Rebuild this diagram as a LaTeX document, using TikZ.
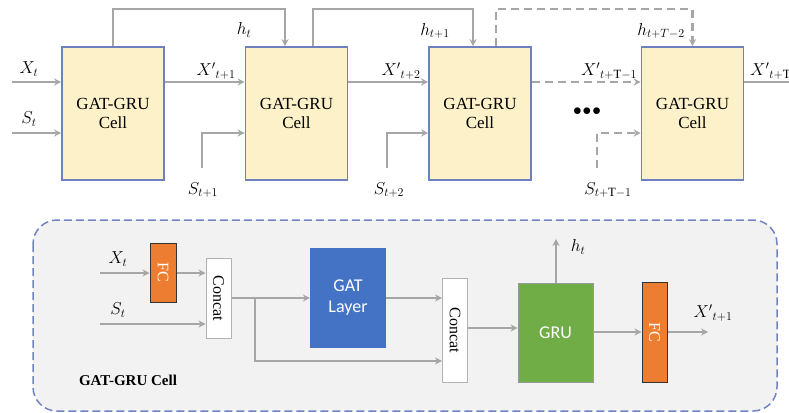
\documentclass[tikz,border=0pt]{standalone}
\usepackage{fontspec}
\setmainfont{Liberation Serif}
\newfontfamily\calib{Carlito}
\newfontfamily\tnr{Liberation Serif}
\usetikzlibrary{arrows.meta,calc}
\definecolor{arrgray}{HTML}{A6A6A6}
\definecolor{cellfill}{HTML}{FCF1C9}
\definecolor{cellborder}{HTML}{6F80BE}
\definecolor{fcorange}{HTML}{ED7D31}
\definecolor{gatblue}{HTML}{4472C4}
\definecolor{grugreen}{HTML}{70AD47}
\definecolor{panelfill}{HTML}{F2F2F2}
\definecolor{panelborder}{HTML}{7384C4}
\tikzset{
  arr/.style={draw=arrgray, line width=2.3pt, -{Stealth[length=7pt,width=7pt]}},
  dsh/.style={dash pattern=on 8pt off 5pt},
  cellbox/.style={draw=cellborder, line width=1.6pt, fill=cellfill, minimum width=102pt, minimum height=133pt, align=center, inner sep=0pt, font=\tnr\fontsize{17}{19}\selectfont},
  lbl/.style={inner sep=0pt, font=\fontsize{18}{20}\selectfont},
  fcbox/.style={draw=black!80, line width=1pt, fill=fcorange, minimum width=26pt, inner sep=0pt, text=white, font=\tnr\fontsize{16}{18}\selectfont},
  concatbox/.style={draw=black!30, line width=1pt, fill=white, minimum width=25pt, inner sep=0pt, font=\tnr\fontsize{16}{18}\selectfont},
  colbox/.style={inner sep=0pt, text=white, align=center, font=\calib\fontsize{18}{21}\selectfont},
}
\begin{document}
\begin{tikzpicture}[x=1pt,y=-1pt]
\useasboundingbox (0,0) rectangle (789,412);
% ---------- top chain ----------
\node[cellbox] (c1) at (113,113.5) {GAT-GRU\\Cell};
\node[cellbox] (c2) at (296.5,113.5) {GAT-GRU\\Cell};
\node[cellbox] (c3) at (480,113.5) {GAT-GRU\\Cell};
\node[cellbox] (c4) at (692.5,113.5) {GAT-GRU\\Cell};

\coordinate (xin) at (12,82);
\coordinate (sin) at (12,133);
\draw[arr] (xin) -- (c1.west |- xin);
\draw[arr] (sin) -- (c1.west |- sin);
\node[lbl] (lxt) at (29,69) {$X_t$};
\node[lbl] (lst) at (29,119) {$S_t$};

% h loops
\draw[arr] (c1.north) -- ++(0,-37) -| ([xshift=-11.5pt]c2.north);
\node[lbl] (lh1) at (244,30) {$h_t$};
\draw[arr] ([xshift=16.5pt]c2.north) -- ++(0,-37) -| ([xshift=-7pt]c3.north);
\node[lbl] (lh2) at (435,31) {$h_{t+1}$};
\draw[arr,dsh] ([xshift=16pt]c3.north) -- ++(0,-37) -| (c4.north);
\node[lbl] (lh3) at (661,31) {$h_{t+T-2}$};

% X' arrows
\draw[arr] (c1.east |- xin) -- (c2.west |- xin);
\node[lbl] (lx1) at (216,71) {${X'}_{t+1}$};
\draw[arr] (c2.east |- xin) -- (c3.west |- xin);
\node[lbl] (lx2) at (401,71) {${X'}_{t+2}$};
\draw[arr,dsh] (c3.east |- xin) -- (c4.west |- xin);
\node[lbl] (lx3) at (609,71) {${X'}_{t+\mathrm{T}-1}$};
\coordinate (xout) at (792,82);
\draw[draw=arrgray, line width=2.3pt] (c4.east |- xin) -- (xout);
\node[lbl, anchor=west] (lx4) at (750,71) {${X'}_{t+\mathrm{T}}$};

% S inputs
\coordinate (s2) at (202,168);
\draw[arr] (s2) |- (c2.west |- sin);
\node[lbl] (ls2) at (203,190) {$S_{t+1}$};
\coordinate (s3) at (387,168);
\draw[arr] (s3) |- (c3.west |- sin);
\node[lbl] (ls3) at (389,190) {$S_{t+2}$};
\coordinate (s4) at (597,168);
\draw[arr,dsh] (s4) |- (c4.west |- sin);
\node[lbl] (ls4) at (608,190) {$S_{t+\mathrm{T}-1}$};

\node[inner sep=0pt, font=\fontsize{17}{17}\selectfont] (dots) at (587,112) {$\bullet\!\bullet\!\bullet$};

% ---------- bottom panel ----------
\draw[draw=panelborder, fill=panelfill, line width=1.5pt, dash pattern=on 8pt off 4pt, rounded corners=24pt] (33,220) rectangle (777,411);

\node[fcbox, minimum height=59pt] (fc1) at (163,272.5) {\rotatebox{-90}{FC}};
\node[concatbox, minimum height=80pt] (cc1) at (218.5,298) {\rotatebox{-90}{Concat}};
\node[colbox, fill=gatblue, minimum width=76pt, minimum height=100pt] (gat) at (348,298) {GAT\\Layer};
\node[concatbox, minimum height=104pt] (cc2) at (455,330) {\rotatebox{-90}{Concat}};
\node[colbox, fill=grugreen, draw=black!40, line width=0.8pt, minimum width=75pt, minimum height=99pt] (gru) at (555.5,332.5) {GRU};
\node[fcbox, minimum width=25pt, minimum height=100pt] (fc2) at (654.5,332) {\rotatebox{-90}{FC}};

\coordinate (bxin) at (100,273);
\coordinate (bsin) at (100,324);
\draw[arr] (bxin) -- (fc1.west |- bxin);
\node[lbl] (blx) at (118,259) {$X_t$};
\draw[arr] (bsin) -- (cc1.west |- bsin);
\node[lbl] (bls) at (118,310) {$S_t$};
\draw[arr] (fc1.east |- bxin) -- (cc1.west |- bxin);

\coordinate (br) at (255,298);
\draw[arr] (cc1.east |- br) -- (gat.west |- br);
\draw[arr] (br) -- (255,361) -- (cc2.west |- 0,361);
\draw[arr] (gat.east |- br) -- (cc2.west |- br);
\draw[arr] (cc2.east |- 0,328) -- (gru.west |- 0,328);
\coordinate (hup) at (556,239);
\draw[arr] (gru.north -| hup) -- (hup);
\node[lbl] (blh) at (578,247) {$h_t$};
\draw[arr] (gru.east |- 0,332) -- (fc2.west |- 0,332);
\coordinate (bxo) at (708,332);
\draw[arr] (fc2.east |- bxo) -- (bxo);
\node[lbl] (blxo) at (713,313) {${X'}_{t+1}$};

\node[inner sep=0pt, font=\tnr\bfseries\fontsize{15}{17}\selectfont] (title) at (128,380) {GAT-GRU Cell};
\end{tikzpicture}
\end{document}
